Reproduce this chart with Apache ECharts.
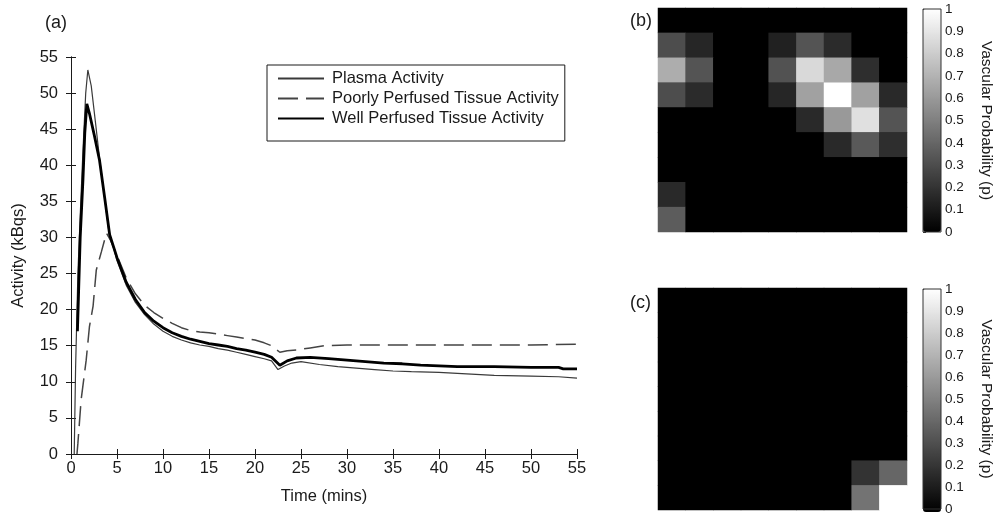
<!DOCTYPE html>
<html>
<head>
<meta charset="utf-8">
<script src="https://cdn.jsdelivr.net/npm/echarts@6/dist/echarts.min.js"></script>
<style>
  html, body { margin: 0; padding: 0; background: #fff; }
  #chart { width: 995px; height: 516px; }
</style>
</head>
<body>
<div id="chart"></div>
<script>
// ---- (a) time-activity curves ----
const plasmaTime = [0.35, 0.5, 0.75, 1.0, 1.3, 1.6, 1.83, 2.2, 2.7, 3.1, 3.6, 4.1, 4.6, 5, 6, 7, 8, 9, 10, 11, 12, 13, 14, 15, 16, 17, 18, 19, 20, 21, 21.8, 22.5, 23.2, 24, 25, 27, 29, 31, 33, 35, 37, 40, 43, 46, 50, 53, 55];
const plasmaActivity = [0, 12, 25, 33, 42, 50, 53.2, 51, 45.5, 41, 36, 31, 28.7, 26.8, 23.4, 21.0, 19.3, 18.0, 17.0, 16.3, 15.8, 15.4, 15.1, 14.9, 14.6, 14.4, 14.1, 13.8, 13.5, 13.2, 12.9, 11.7, 12.2, 12.6, 12.8, 12.4, 12.1, 11.9, 11.7, 11.5, 11.4, 11.3, 11.1, 10.9, 10.8, 10.7, 10.5];

const poorTime = [0.65, 0.75, 1.1, 1.65, 2.0, 2.4, 2.75, 3.3, 3.85, 4.3, 5, 6, 7, 8, 9, 10, 11, 12, 13, 14, 15, 16, 17, 18, 19, 20, 21, 21.8, 22.7, 23.5, 24.5, 26, 27.5, 30, 35, 40, 45, 50, 55];
const poorActivity = [0, 1.5, 7.5, 13, 17.6, 20.5, 25.5, 28, 30.6, 29.6, 27.5, 24.4, 22.2, 20.6, 19.6, 18.8, 18.1, 17.5, 17.1, 16.9, 16.8, 16.6, 16.4, 16.2, 16.0, 15.8, 15.4, 15.0, 14.1, 14.3, 14.4, 14.7, 15.0, 15.1, 15.1, 15.1, 15.1, 15.1, 15.2];

const wellTime = [0.7, 1.0, 1.3, 1.5, 1.72, 2.0, 2.56, 3.1, 3.65, 4.2, 4.6, 5, 6, 7, 8, 9, 10, 11, 12, 13, 14, 15, 16, 17, 18, 19, 20, 21, 21.8, 22.7, 23.5, 24.5, 26, 28, 30, 32, 34, 36, 38, 40, 42, 46, 50, 53, 53.5, 55];
const wellActivity = [17, 30, 38, 44.5, 48.5, 47.2, 44, 40.7, 35.6, 30.4, 28.8, 27.2, 23.8, 21.4, 19.6, 18.4, 17.5, 16.8, 16.3, 15.9, 15.6, 15.3, 15.1, 14.9, 14.6, 14.4, 14.1, 13.8, 13.4, 12.3, 12.9, 13.3, 13.4, 13.2, 13.0, 12.8, 12.6, 12.5, 12.3, 12.2, 12.1, 12.1, 12.0, 12.0, 11.8, 11.8];

const seriesNames = ['Plasma Activity', 'Poorly Perfused Tissue Activity', 'Well Perfused Tissue Activity'];
const timeTicks = { min: 0, max: 55, interval: 5 };
const activityTicks = { min: 0, max: 55, interval: 5 };

// ---- (b), (c) vascular probability maps, 9 x 9, row 0 at the top ----
const mapB = [
  [0,    0,    0, 0, 0,    0,    0,    0,    0   ],
  [0.30, 0.15, 0, 0, 0.13, 0.33, 0.17, 0,    0   ],
  [0.68, 0.33, 0, 0, 0.32, 0.85, 0.66, 0.18, 0   ],
  [0.30, 0.17, 0, 0, 0.15, 0.63, 1.00, 0.63, 0.16],
  [0,    0,    0, 0, 0,    0.16, 0.60, 0.88, 0.33],
  [0,    0,    0, 0, 0,    0,    0.16, 0.35, 0.18],
  [0,    0,    0, 0, 0,    0,    0,    0,    0   ],
  [0.16, 0,    0, 0, 0,    0,    0,    0,    0   ],
  [0.36, 0,    0, 0, 0,    0,    0,    0,    0   ]
];
const mapC = [
  [0, 0, 0, 0, 0, 0, 0, 0,    0   ],
  [0, 0, 0, 0, 0, 0, 0, 0,    0   ],
  [0, 0, 0, 0, 0, 0, 0, 0,    0   ],
  [0, 0, 0, 0, 0, 0, 0, 0,    0   ],
  [0, 0, 0, 0, 0, 0, 0, 0,    0   ],
  [0, 0, 0, 0, 0, 0, 0, 0,    0   ],
  [0, 0, 0, 0, 0, 0, 0, 0,    0   ],
  [0, 0, 0, 0, 0, 0, 0, 0.20, 0.40],
  [0, 0, 0, 0, 0, 0, 0, 0.45, 1.00]
];
const mapIndex = [0, 1, 2, 3, 4, 5, 6, 7, 8];
const probabilityTicks = { min: 0, max: 1, interval: 0.1 };
const colorbarTitle = 'Vascular Probability (p)';

const FONT = '"Liberation Sans", Arial, Helvetica, sans-serif';
const INK = '#1a1a1a';
const MAIN_SIZE = 16.5;

function pairs(xs, ys) { return xs.map((x, i) => [x, ys[i]]); }
function cells(m) {
  const out = [];
  m.forEach((row, r) => row.forEach((v, c) => out.push([c, r, v])));
  return out;
}

const chart = echarts.init(document.getElementById('chart'), null, { renderer: 'canvas' });

const boxAxisLine = { show: true, lineStyle: { color: INK, width: 1 } };
const inTick = { show: true, inside: true, length: 5, lineStyle: { color: INK, width: 1 } };

function mapAxisX(gi) {
  return { type: 'category', gridIndex: gi, data: mapIndex, show: false, boundaryGap: true };
}
function mapAxisY(gi) {
  return { type: 'category', gridIndex: gi, data: mapIndex, show: false, inverse: true, boundaryGap: true };
}
function barAxisY(gi) {
  return {
    type: 'value', gridIndex: gi, position: 'right',
    min: probabilityTicks.min, max: probabilityTicks.max, interval: probabilityTicks.interval,
    axisLine: { show: false },
    axisTick: { show: true, inside: false, length: 3, lineStyle: { color: '#333' } },
    splitLine: { show: false },
    axisLabel: { fontFamily: FONT, fontSize: 13.5, color: INK, margin: 4 },
    name: colorbarTitle, nameLocation: 'middle', nameRotate: -90, nameGap: 37,
    nameTextStyle: { fontFamily: FONT, fontSize: 15.5, color: INK }
  };
}
const titleStyle = { fontFamily: FONT, fontSize: 18, fontWeight: 'normal', color: INK };

const option = {
  backgroundColor: '#fff',
  animation: false,
  textStyle: { fontFamily: FONT },
  title: [
    { text: '(a)', left: 40, top: 9, textStyle: titleStyle },
    { text: '(b)', left: 625, top: 7, textStyle: titleStyle },
    { text: '(c)', left: 625, top: 289, textStyle: titleStyle }
  ],
  legend: {
    data: seriesNames,
    orient: 'vertical',
    left: 267, top: 65,
    itemWidth: 46, itemHeight: 16, itemGap: 3,
    padding: [5, 6, 14, 10],
    borderColor: INK, borderWidth: 1,
    backgroundColor: '#fff',
    selectedMode: false,
    itemStyle: { opacity: 0 },
    textStyle: { fontFamily: FONT, fontSize: MAIN_SIZE, color: INK, padding: [0, 0, 0, 3] }
  },
  grid: [
    { left: 71, top: 57, width: 506, height: 397 },
    { left: 658, top: 8, width: 249, height: 224, show: true, backgroundColor: '#000', borderWidth: 0 },
    { left: 658, top: 288, width: 249, height: 222, show: true, backgroundColor: '#000', borderWidth: 0 },
    { left: 923, top: 9, width: 18, height: 223, show: true, borderColor: '#333', borderWidth: 1, backgroundColor: 'transparent', z: 10 },
    { left: 923, top: 289, width: 18, height: 223, show: true, borderColor: '#333', borderWidth: 1, backgroundColor: 'transparent', z: 10 }
  ],
  xAxis: [
    {
      type: 'value', gridIndex: 0, position: 'bottom',
      min: timeTicks.min, max: timeTicks.max, interval: timeTicks.interval,
      axisLine: boxAxisLine, axisTick: inTick, splitLine: { show: false },
      axisLabel: { fontFamily: FONT, fontSize: MAIN_SIZE, color: INK, margin: 6 },
      name: 'Time (mins)', nameLocation: 'middle', nameGap: 34,
      nameTextStyle: { fontFamily: FONT, fontSize: MAIN_SIZE, color: INK }
    },
    {
      type: 'value', gridIndex: 0, position: 'top',
      min: timeTicks.min, max: timeTicks.max, interval: timeTicks.interval,
      axisLine: boxAxisLine, axisTick: inTick, splitLine: { show: false }, axisLabel: { show: false }
    },
    mapAxisX(1),
    mapAxisX(2),
    { type: 'value', gridIndex: 3, min: 0, max: 1, show: false },
    { type: 'value', gridIndex: 4, min: 0, max: 1, show: false }
  ],
  yAxis: [
    {
      type: 'value', gridIndex: 0, position: 'left',
      min: activityTicks.min, max: activityTicks.max, interval: activityTicks.interval,
      axisLine: boxAxisLine, axisTick: inTick, splitLine: { show: false },
      axisLabel: { fontFamily: FONT, fontSize: MAIN_SIZE, color: INK, margin: 13 },
      name: 'Activity (kBqs)', nameLocation: 'middle', nameGap: 44,
      nameTextStyle: { fontFamily: FONT, fontSize: MAIN_SIZE, color: INK }
    },
    {
      type: 'value', gridIndex: 0, position: 'right',
      min: activityTicks.min, max: activityTicks.max, interval: activityTicks.interval,
      axisLine: boxAxisLine, axisTick: inTick, splitLine: { show: false }, axisLabel: { show: false }
    },
    mapAxisY(1),
    mapAxisY(2),
    barAxisY(3),
    barAxisY(4)
  ],
  visualMap: [
    {
      type: 'continuous', seriesIndex: 3, min: 0, max: 1,
      inRange: { color: ['#000000', '#ffffff'] },
      calculable: false, realtime: false, hoverLink: false,
      left: 923, top: 9, itemWidth: 18, itemHeight: 223, padding: 0,
      text: null, showLabel: false, orient: 'vertical'
    },
    {
      type: 'continuous', seriesIndex: 4, min: 0, max: 1,
      inRange: { color: ['#000000', '#ffffff'] },
      calculable: false, realtime: false, hoverLink: false,
      left: 923, top: 289, itemWidth: 18, itemHeight: 223, padding: 0,
      text: null, showLabel: false, orient: 'vertical'
    }
  ],
  series: [
    {
      name: seriesNames[0], type: 'line', xAxisIndex: 0, yAxisIndex: 0,
      data: pairs(plasmaTime, plasmaActivity),
      symbol: 'none', smooth: false,
      lineStyle: { color: '#3a3a3a', width: 1.2 },
      itemStyle: { color: '#3a3a3a' }, z: 3
    },
    {
      name: seriesNames[1], type: 'line', xAxisIndex: 0, yAxisIndex: 0,
      data: pairs(poorTime, poorActivity),
      symbol: 'none', smooth: false,
      lineStyle: { color: '#444', width: 1.5, type: [20, 8] },
      itemStyle: { color: '#444' }, z: 2
    },
    {
      name: seriesNames[2], type: 'line', xAxisIndex: 0, yAxisIndex: 0,
      data: pairs(wellTime, wellActivity),
      symbol: 'none', smooth: false,
      lineStyle: { color: '#000', width: 2.8 },
      itemStyle: { color: '#000' }, z: 4
    },
    {
      name: 'map-b', type: 'heatmap', xAxisIndex: 2, yAxisIndex: 2,
      data: cells(mapB), emphasis: { disabled: true }
    },
    {
      name: 'map-c', type: 'heatmap', xAxisIndex: 3, yAxisIndex: 3,
      data: cells(mapC), emphasis: { disabled: true }
    }
  ]
};

chart.setOption(option);
</script>
</body>
</html>
